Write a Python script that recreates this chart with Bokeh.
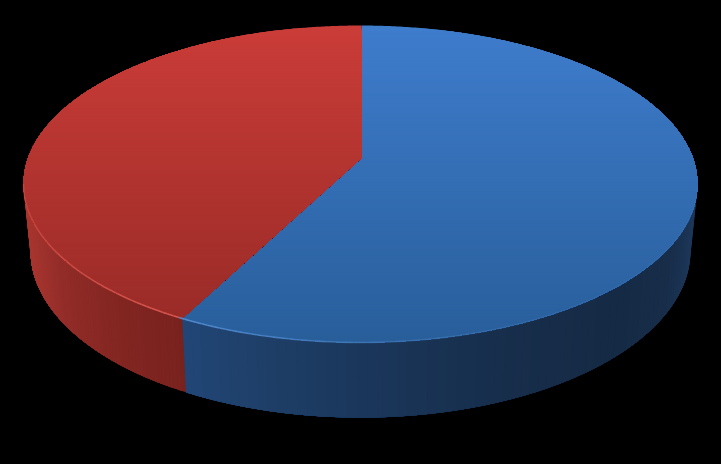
import numpy as np
from bokeh.plotting import figure
from bokeh.models import Range1d, ColumnDataSource
from bokeh.embed import file_html
from bokeh.resources import INLINE

categories = ["Blue", "Red"]
values = [57.7, 42.3]

# pie geometry in window pixels
CX, CY, RX, RY = 360.0, 183.5, 337.0, 158.5
BCY, BRX, BRY = 250.0, 330.0, 167.0
HX, HY = 361.0, 157.5

BLUE_TOP = [(25, (62, 124, 204)), (342, (40, 94, 154))]
RED_TOP = [(25, (202, 60, 56)), (317, (154, 43, 39))]
SIDE_STOPS = [
    (23, (170, 54, 48)), (60, (146, 44, 40)), (110, (132, 38, 34)), (182, (120, 34, 30)),
]
SIDE_BLUE = [
    (183, (33, 70, 118)), (260, (30, 63, 104)), (370, (26, 54, 90)), (500, (23, 46, 76)),
    (620, (21, 42, 68)), (670, (23, 45, 73)), (697, (29, 56, 90)),
]


def lerp(stops, v):
    xs = [s[0] for s in stops]
    return tuple(int(round(float(np.interp(v, xs, [s[1][i] for s in stops])))) for i in range(3))


def hexc(c):
    return "#%02x%02x%02x" % tuple(c)


def rim(theta):
    dx, dy = np.sin(theta) * RX, -np.cos(theta) * RY
    ox, oy = (HX - CX) / RX, (HY - CY) / RY
    ax, ay = dx / RX, dy / RY
    a = ax * ax + ay * ay
    b = 2 * (ox * ax + oy * ay)
    c = ox * ox + oy * oy - 1
    t = (-b + np.sqrt(b * b - 4 * a * c)) / (2 * a)
    return HX + t * dx, HY + t * dy


def clip_below(pts, y0):
    out = []
    n = len(pts)
    for i in range(n):
        x1, y1 = pts[i]
        x2, y2 = pts[(i + 1) % n]
        if y1 >= y0:
            out.append((x1, y1))
        if (y1 >= y0) != (y2 >= y0):
            t = (y0 - y1) / (y2 - y1)
            out.append((x1 + t * (x2 - x1), y0))
    return out


total = sum(values)
split = values[0] / total * 2 * np.pi

xs, ys, colors = [], [], []

sx, sy = rim(split)
a_split = np.arctan2((sy - CY) / RY, (sx - CX) / RX) % (2 * np.pi)


def side_points(a0, a1, n=90):
    aa = np.linspace(a0, a1, n)
    top = [(CX + RX * np.cos(a), CY + RY * np.sin(a)) for a in aa]
    bot = [(CX + BRX * np.cos(a), BCY + BRY * np.sin(a)) for a in aa]
    return top, bot


def add_side(a_from, a_to, stops, steps=70):
    edges = np.linspace(a_from, a_to, steps + 1)
    for i in range(steps):
        top, bot = side_points(edges[i], a_to, max(6, 90 - i))
        xm = CX + RX * np.cos(edges[i] + (edges[1] - edges[0]) / 2)
        poly = top + bot[::-1]
        xs.append([p[0] for p in poly])
        ys.append([p[1] for p in poly])
        colors.append(hexc(lerp(stops, xm)))


add_side(0.0, a_split, sorted(SIDE_BLUE))
add_side(a_split, np.pi, sorted(SIDE_STOPS))


def add_top(t0, t1, stops, bands=110):
    th = np.linspace(t0, t1, 400)
    poly = [(HX, HY)] + [rim(t) for t in th]
    for y0 in np.linspace(stops[0][0], stops[-1][0], bands):
        c = clip_below(poly, y0)
        if len(c) >= 3:
            xs.append([p[0] for p in c])
            ys.append([p[1] for p in c])
            colors.append(hexc(lerp(stops, y0)))


add_top(0.0, split, BLUE_TOP)
add_top(split, 2 * np.pi, RED_TOP)

p = figure(width=721, height=464, output_backend="svg", toolbar_location=None,
           x_range=Range1d(0, 721), y_range=Range1d(464, 0),
           background_fill_color="black", border_fill_color="black",
           min_border=0, outline_line_color=None)
p.axis.visible = False
p.grid.visible = False
p.patches(xs="xs", ys="ys", fill_color="color", line_color=None,
          source=ColumnDataSource(dict(xs=xs, ys=ys, color=colors)))

# rim highlight along the front of the top face
seg_x, seg_y, seg_c, seg_a = [], [], [], []
hl = np.linspace(0.02, np.pi, 160)
for a0, a1 in zip(hl[:-1], hl[1:]):
    x0, y0 = CX + RX * np.cos(a0), CY + RY * np.sin(a0)
    x1, y1 = CX + RX * np.cos(a1), CY + RY * np.sin(a1)
    seg_x.append([x0, x1])
    seg_y.append([y0, y1])
    if a0 < a_split:
        seg_c.append("#5a94dc")
        seg_a.append(float(np.interp(x0, [183, 400, 560, 697], [0.8, 0.35, 0.15, 0.1])))
    else:
        seg_c.append("#e8625a")
        seg_a.append(float(np.interp(x0, [23, 60, 183], [0.35, 0.55, 0.8])))
p.multi_line(xs="x", ys="y", line_color="c", line_alpha="a", line_width=1.6,
             source=ColumnDataSource(dict(x=seg_x, y=seg_y, c=seg_c, a=seg_a)))

html = file_html(p, INLINE)
html = html.replace("<head>", "<head><style>html,body{background:#000;overflow:hidden}</style>", 1)
open("out.html", "w").write(html)
